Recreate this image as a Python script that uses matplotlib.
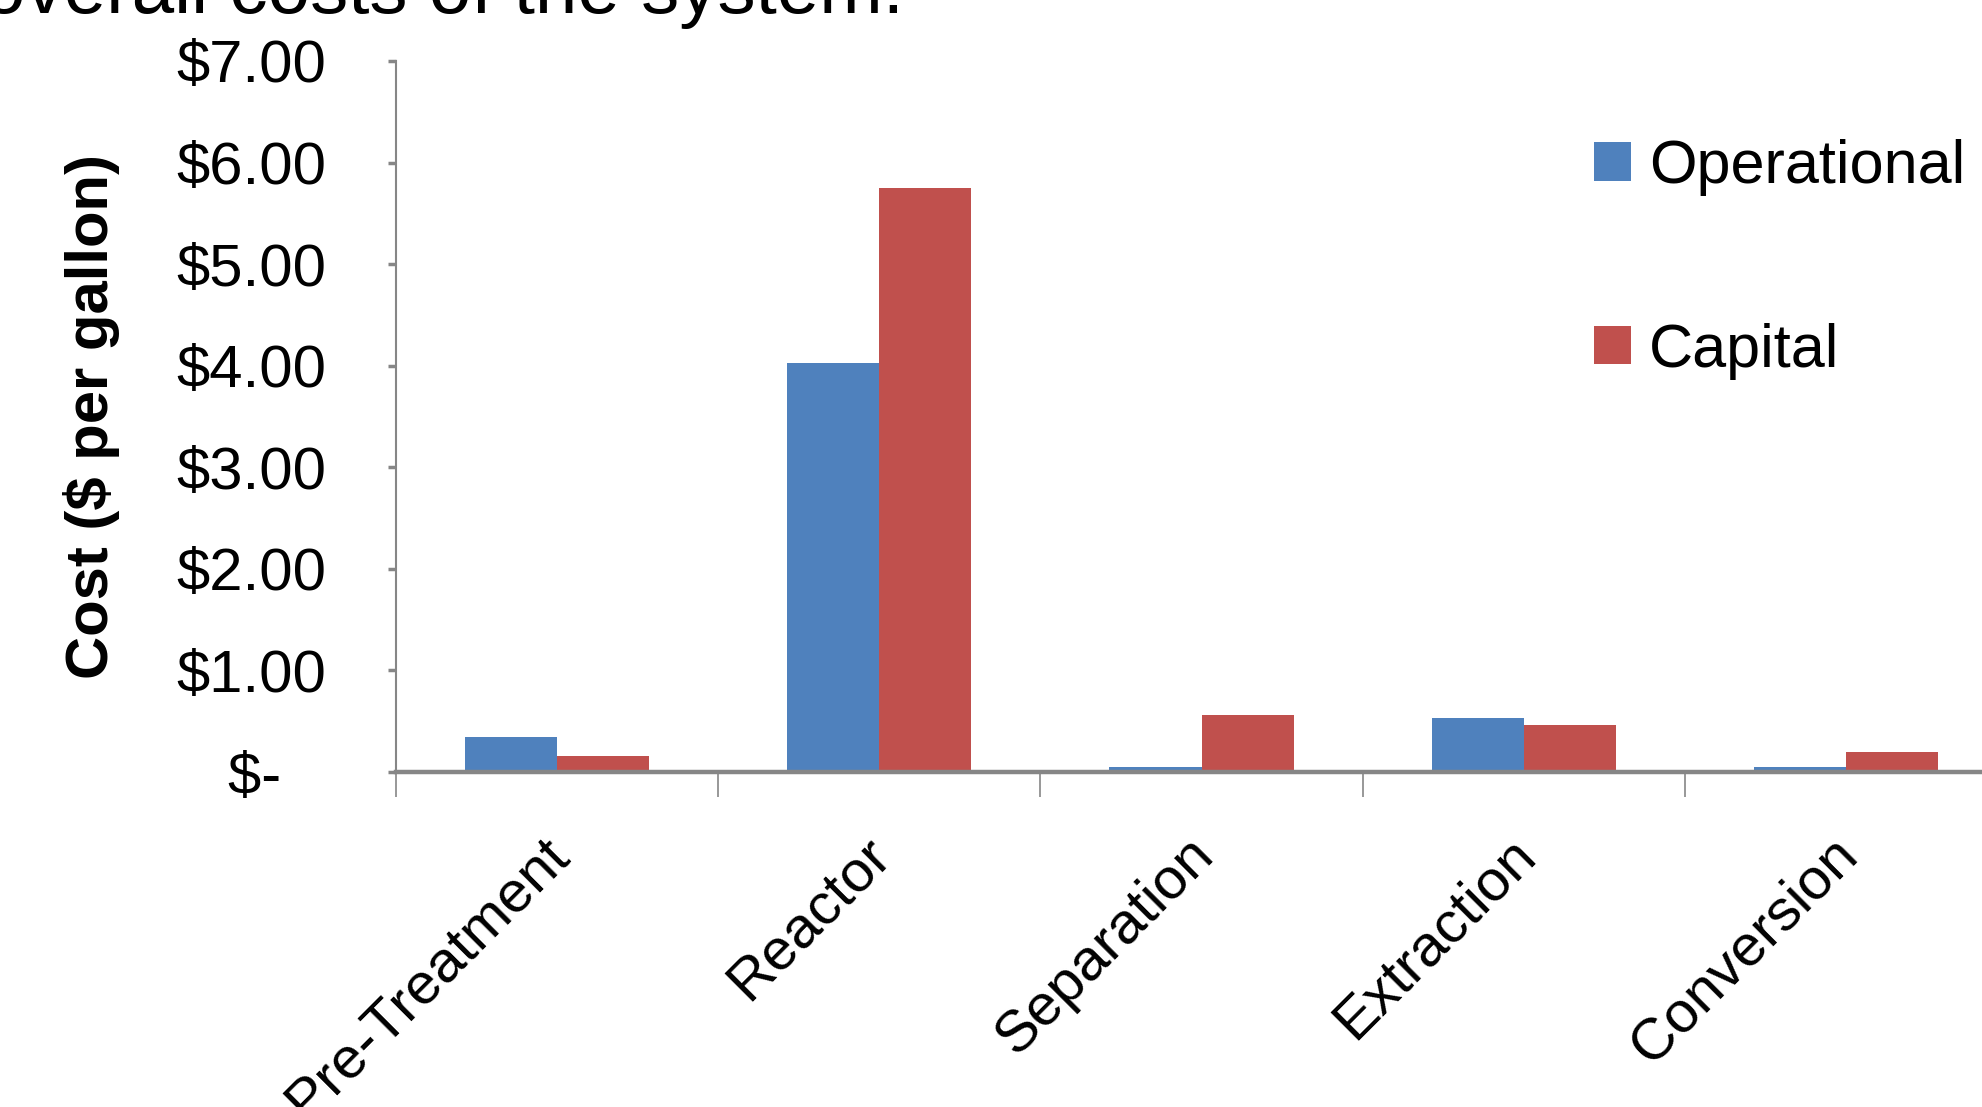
import matplotlib.pyplot as plt
import matplotlib.transforms as mtransforms
import numpy as np

plt.rcParams['font.family'] = ['Liberation Sans', 'DejaVu Sans']

# data ($ per gallon)
categories = ["Pre-Treatment", "Reactor", "Separation", "Extraction", "Conversion"]
operational = [0.34, 4.03, 0.05, 0.53, 0.05]
capital = [0.16, 5.75, 0.56, 0.46, 0.20]
yticks = [0, 1, 2, 3, 4, 5, 6, 7]
ytick_labels = ["$-  \u2009", "$1.00", "$2.00", "$3.00", "$4.00", "$5.00", "$6.00", "$7.00"]

BLUE = "#4F81BD"
RED = "#C0504D"
GRAY = "#868686"

fig = plt.figure(figsize=(19.82, 11.07), dpi=100)
# axes runs a little past the right edge, like the cropped slide
ax = fig.add_axes([396 / 1982, 1 - 772 / 1107, (2007 - 396) / 1982, (772 - 61) / 1107])

x = np.arange(len(categories))
w = 1 / 3.5  # excel gap width 150%
ax.bar(x - w / 2, operational, w, color=BLUE, label="Operational", zorder=2)
ax.bar(x + w / 2, capital, w, color=RED, label="Capital", zorder=2)

ax.set_xlim(-0.5, len(categories) - 0.5)
ax.set_ylim(0, 7)

for s in ("top", "right"):
    ax.spines[s].set_visible(False)
ax.spines["left"].set_color(GRAY)
ax.spines["left"].set_linewidth(1.5)
ax.spines["bottom"].set_color(GRAY)
ax.spines["bottom"].set_linewidth(3.2)
ax.spines["bottom"].set_zorder(3)

ax.set_yticks(yticks)
ax.set_yticklabels(ytick_labels)
ax.tick_params(axis="y", direction="out", length=6, width=2.5, color=GRAY,
               pad=44, labelsize=43)

ax.set_xticks(x)
ax.set_xticklabels(categories, rotation=45, ha="right", va="top",
                   rotation_mode="anchor")
ax.set_xticks(np.arange(-0.5, len(categories)), minor=True)
ax.tick_params(axis="x", which="major", length=0, pad=40, labelsize=42)
ax.tick_params(axis="x", which="minor", direction="out", length=18, width=1.2,
               color=GRAY)
shift = mtransforms.ScaledTranslation(-0.16, 0, fig.dpi_scale_trans)
for lab in ax.get_xticklabels():
    lab.set_transform(lab.get_transform() + shift)

ax.set_ylabel("Cost ($ per gallon)", fontsize=43, fontweight="bold", va="center")
ax.yaxis.set_label_coords(-0.189, 0.5)

ax.legend(loc="upper left", bbox_to_anchor=(1594 / 1982, 1 - 139 / 1107),
          bbox_transform=fig.transFigure, frameon=False, fontsize=44,
          handlelength=0.6, handleheight=0.6, handletextpad=0.3,
          labelspacing=2.07, borderpad=0, borderaxespad=0)

# slide text cut off at the top of the screenshot
fig.text(904 / 1982, 1 - 13 / 1107, "overall costs of the system.", fontsize=55,
         ha="right", va="baseline")

fig.savefig("out.png", dpi=100)
